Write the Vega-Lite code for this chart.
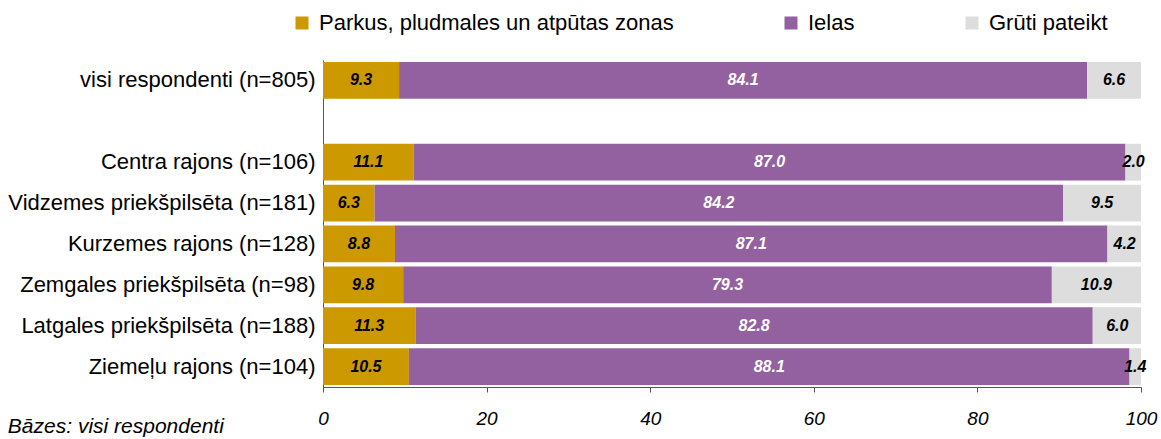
{
  "$schema": "https://vega.github.io/schema/vega-lite/v6.json",
  "width": 818,
  "height": 327,
  "autosize": {"type": "none"},
  "padding": {"left": 323, "top": 60, "right": 20, "bottom": 52},
  "background": "white",
  "title": {
    "text": "Bāzes: visi respondenti",
    "orient": "bottom",
    "anchor": "start",
    "frame": "bounds",
    "font": "Liberation Sans",
    "fontSize": 21,
    "fontStyle": "italic",
    "fontWeight": "normal",
    "color": "black",
    "offset": -12
  },
  "config": {
    "view": {"stroke": null},
    "font": "Liberation Sans"
  },
  "data": {
    "values": [
      {"cat": "visi respondenti (n=805)", "seg": "Parkus, pludmales un atpūtas zonas", "ord": 1, "val": 9.3},
      {"cat": "visi respondenti (n=805)", "seg": "Ielas", "ord": 2, "val": 84.1},
      {"cat": "visi respondenti (n=805)", "seg": "Grūti pateikt", "ord": 3, "val": 6.6},
      {"cat": "Centra rajons (n=106)", "seg": "Parkus, pludmales un atpūtas zonas", "ord": 1, "val": 11.1},
      {"cat": "Centra rajons (n=106)", "seg": "Ielas", "ord": 2, "val": 87.0},
      {"cat": "Centra rajons (n=106)", "seg": "Grūti pateikt", "ord": 3, "val": 2.0},
      {"cat": "Vidzemes priekšpilsēta (n=181)", "seg": "Parkus, pludmales un atpūtas zonas", "ord": 1, "val": 6.3},
      {"cat": "Vidzemes priekšpilsēta (n=181)", "seg": "Ielas", "ord": 2, "val": 84.2},
      {"cat": "Vidzemes priekšpilsēta (n=181)", "seg": "Grūti pateikt", "ord": 3, "val": 9.5},
      {"cat": "Kurzemes rajons (n=128)", "seg": "Parkus, pludmales un atpūtas zonas", "ord": 1, "val": 8.8},
      {"cat": "Kurzemes rajons (n=128)", "seg": "Ielas", "ord": 2, "val": 87.1},
      {"cat": "Kurzemes rajons (n=128)", "seg": "Grūti pateikt", "ord": 3, "val": 4.2},
      {"cat": "Zemgales priekšpilsēta (n=98)", "seg": "Parkus, pludmales un atpūtas zonas", "ord": 1, "val": 9.8},
      {"cat": "Zemgales priekšpilsēta (n=98)", "seg": "Ielas", "ord": 2, "val": 79.3},
      {"cat": "Zemgales priekšpilsēta (n=98)", "seg": "Grūti pateikt", "ord": 3, "val": 10.9},
      {"cat": "Latgales priekšpilsēta (n=188)", "seg": "Parkus, pludmales un atpūtas zonas", "ord": 1, "val": 11.3},
      {"cat": "Latgales priekšpilsēta (n=188)", "seg": "Ielas", "ord": 2, "val": 82.8},
      {"cat": "Latgales priekšpilsēta (n=188)", "seg": "Grūti pateikt", "ord": 3, "val": 6.0},
      {"cat": "Ziemeļu rajons (n=104)", "seg": "Parkus, pludmales un atpūtas zonas", "ord": 1, "val": 10.5},
      {"cat": "Ziemeļu rajons (n=104)", "seg": "Ielas", "ord": 2, "val": 88.1},
      {"cat": "Ziemeļu rajons (n=104)", "seg": "Grūti pateikt", "ord": 3, "val": 1.4}
    ]
  },
  "transform": [
    {"stack": "val", "groupby": ["cat"], "sort": [{"field": "ord"}], "as": ["v0", "v1"]},
    {"calculate": "(datum.v0 + datum.v1) / 2", "as": "mid"}
  ],
  "encoding": {
    "y": {
      "field": "cat",
      "type": "nominal",
      "scale": {
        "domain": ["visi respondenti (n=805)", " ", "Centra rajons (n=106)", "Vidzemes priekšpilsēta (n=181)", "Kurzemes rajons (n=128)", "Zemgales priekšpilsēta (n=98)", "Latgales priekšpilsēta (n=188)", "Ziemeļu rajons (n=104)"],
        "paddingInner": 0.1,
        "paddingOuter": 0.05
      },
      "axis": {
        "title": null,
        "ticks": false,
        "labelFontSize": 22,
        "labelColor": "black",
        "labelPadding": 8,
        "labelLimit": 400,
        "domainColor": "#555555",
        "domainWidth": 1
      }
    }
  },
  "layer": [
    {
      "mark": {"type": "bar", "clip": true},
      "encoding": {
        "x": {
          "field": "v0",
          "type": "quantitative",
          "scale": {"domain": [0, 100], "nice": false},
          "axis": {
            "title": null,
            "values": [0, 20, 40, 60, 80, 100],
            "grid": false,
            "tickSize": 5,
            "tickColor": "#555555",
            "domainColor": "#555555",
            "labelFontSize": 19,
            "labelFontStyle": "italic",
            "labelColor": "black",
            "labelPadding": 17,
            "labelFlush": false
          }
        },
        "x2": {"field": "v1"},
        "color": {
          "field": "seg",
          "type": "nominal",
          "scale": {
            "domain": ["Parkus, pludmales un atpūtas zonas", "Ielas", "Grūti pateikt"],
            "range": ["#CC9900", "#9360A0", "#DDDDDD"]
          },
          "legend": {
            "title": null,
            "orient": "none",
            "direction": "horizontal",
            "legendX": -32,
            "legendY": -48,
            "symbolType": "square",
            "symbolSize": 169,
            "symbolStrokeWidth": 0,
            "labelFontSize": 22,
            "labelColor": "black",
            "labelOffset": 6,
            "columnPadding": 106,
            "labelLimit": 500
          }
        },
        "order": {"field": "ord"}
      }
    },
    {
      "mark": {"type": "text", "fontSize": 16, "fontWeight": "bold", "fontStyle": "italic", "align": "center", "baseline": "middle"},
      "encoding": {
        "x": {"field": "mid", "type": "quantitative"},
        "text": {"field": "val", "type": "quantitative", "format": ".1f"},
        "color": {
          "condition": {"test": "datum.seg === 'Ielas'", "value": "white"},
          "value": "black"
        }
      }
    }
  ]
}
